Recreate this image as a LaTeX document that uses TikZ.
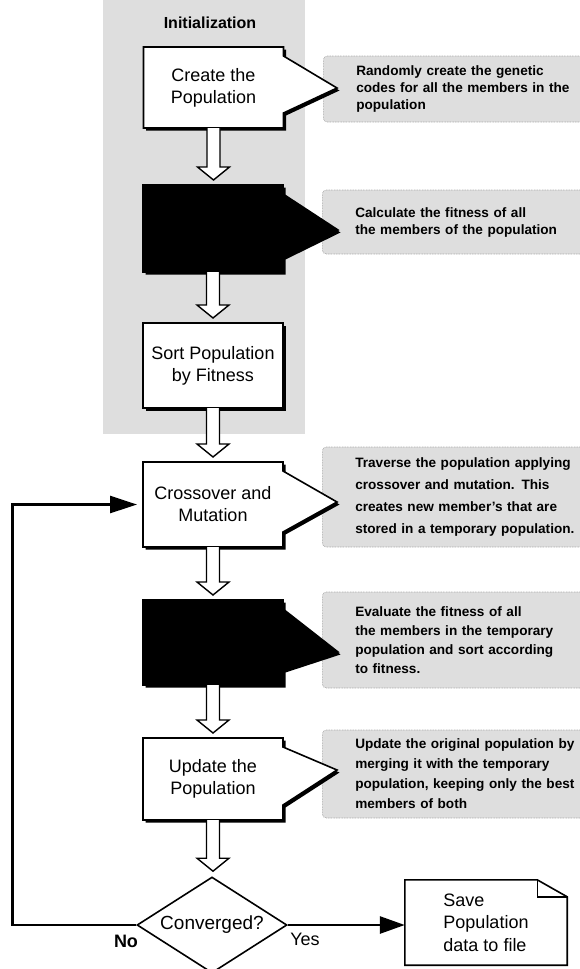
\documentclass[tikz,border=0pt]{standalone}
\usepackage{fontspec}
\setmainfont{Liberation Sans}
\usetikzlibrary{shapes.geometric,shadows,arrows.meta,calc,backgrounds}
\tikzset{
  region/.style={fill=black!13, inner sep=0pt, outer sep=0pt},
  boxtext/.style={inner sep=0pt, outer sep=0pt, minimum width=140pt, minimum height=85pt,
    align=center, font=\fontsize{18}{22}\selectfont},
  stepbox/.style={boxtext, draw=black, line width=1.6pt, fill=white},
  shad/.style={drop shadow={shadow xshift=2.5pt, shadow yshift=-2.5pt, fill=black, opacity=1}},
  outline/.style={draw=black, line width=1.6pt, fill=white, line join=miter, shad},
  notebox/.style={fill=black!13, draw=black!45, densely dotted, line width=0.6pt, rounded corners=4pt,
    anchor=west, inner xsep=33pt, inner ysep=0pt, text width=232pt, align=left},
  harrow/.style={draw=black, line width=1.4pt, fill=white, line join=miter},
  loopline/.style={line width=2.8pt, line join=miter, -{Triangle[length=27pt,width=17pt]}},
}
\newcommand\blockarr[2]{\draw[harrow] let \p1=(#1.south), \p2=(#2.north) in
  (\x1-6.5pt,\y1) -- (\x1-6.5pt,\y2+18pt) -- (\x1-16pt,\y2+18pt) -- (\x1,\y2+5pt)
  -- (\x1+16pt,\y2+18pt) -- (\x1+6.5pt,\y2+18pt) -- (\x1+6.5pt,\y1);}
\newcommand\calloutline[3]{\path[outline,#3] (#1.north west) -- (#1.north east)
  -- ([yshift=-9pt]#1.north east) -- (#2) -- ([yshift=15pt]#1.south east)
  -- (#1.south east) -- (#1.south west) -- cycle;}
\begin{document}
\begin{tikzpicture}[x=1pt,y=-1pt]
\useasboundingbox (0,0) rectangle (579,969);
% boxes (text on main layer)
\node[boxtext, minimum height=81pt] (create) at (213.5,87.5) {Create the\\Population};
\node[boxtext, minimum height=87pt] (fit1) at (213,228.5) {};
\node[stepbox, shad] (sort) at (213,365.5) {Sort Population\\by Fitness};
\node[boxtext] (cross) at (213,504.5) {Crossover and\\Mutation};
\node[boxtext] (fit2) at (213,642.5) {};
\node[boxtext, minimum height=82pt] (update) at (213,779) {Update the\\Population};
\coordinate (t1) at (337,88);
\coordinate (t2) at (338,230);
\coordinate (t3) at (337,502);
\coordinate (t4) at (338,652);
\coordinate (t5) at (337,770);
\begin{scope}[on background layer]
% initialization region
\node[region, anchor=north west, minimum width=202pt, minimum height=434pt] (init) at (103,0) {};
% notes
\node[notebox, minimum height=66pt, font=\fontsize{13.6}{17}\bfseries\selectfont] (n1) at (323,89)
  {Randomly create the genetic\\codes for all the members in the\\population};
\node[notebox, minimum height=64pt, font=\fontsize{13.6}{17}\bfseries\selectfont] (n2) at (322,222)
  {Calculate the fitness of all\\the members of the population};
\node[notebox, minimum height=100pt, font=\fontsize{13.6}{22}\bfseries\selectfont] (n3) at (322,497)
  {Traverse the population applying\\crossover and mutation. This\\creates new member's that are\\stored in a temporary population.};
\node[notebox, minimum height=96pt, font=\fontsize{13.6}{19}\bfseries\selectfont] (n4) at (322,640)
  {Evaluate the fitness of all\\the members in the temporary\\population and sort according\\to fitness.};
\node[notebox, minimum height=88pt, font=\fontsize{13.6}{20}\bfseries\selectfont] (n5) at (322,774)
  {Update the original population by\\merging it with the temporary\\population, keeping only the best\\members of both};
% callout outlines
\calloutline{create}{t1}{}
\calloutline{fit1}{t2}{fill=black}
\calloutline{cross}{t3}{}
\calloutline{fit2}{t4}{fill=black}
\calloutline{update}{t5}{}
\end{scope}
\node[font=\fontsize{16}{19}\bfseries\selectfont] (initlbl) at (210,23) {Initialization};
\node[diamond, draw, line width=1.6pt, aspect=1.5, minimum width=150pt, minimum height=96pt,
  inner sep=0pt, fill=white, font=\fontsize{19}{22}\selectfont] (conv) at (212,925) {Converged?};
\node[inner sep=0pt, minimum width=162pt, minimum height=85pt, align=left,
  font=\fontsize{18}{22.5}\selectfont] (save) at (486,922.5) {Save\\Population\\data to file};
\draw[line width=1.6pt, line join=miter] (save.north west) -- ([xshift=-30pt]save.north east)
  -- ([yshift=-17pt]save.north east) -- (save.south east) -- (save.south west) -- cycle;
\draw[line width=1.4pt] ([xshift=-30pt]save.north east) |- ([yshift=-17pt]save.north east);
% block arrows
\blockarr{create}{fit1}
\blockarr{fit1}{sort}
\blockarr{sort}{cross}
\blockarr{cross}{fit2}
\blockarr{fit2}{update}
\blockarr{update}{conv}
% connectors
\draw[loopline] (conv.west) -- ++(-124,0) |- ([xshift=-6pt]cross.west);
\draw[loopline, -{Triangle[length=25pt,width=17pt]}] (conv.east) -- (conv.east -| save.west);
\node[font=\fontsize{18}{20}\bfseries\selectfont] (no) at (126,941) {No};
\node[font=\fontsize{18}{20}\selectfont] (yes) at (305,939) {Yes};
\end{tikzpicture}
\end{document}
